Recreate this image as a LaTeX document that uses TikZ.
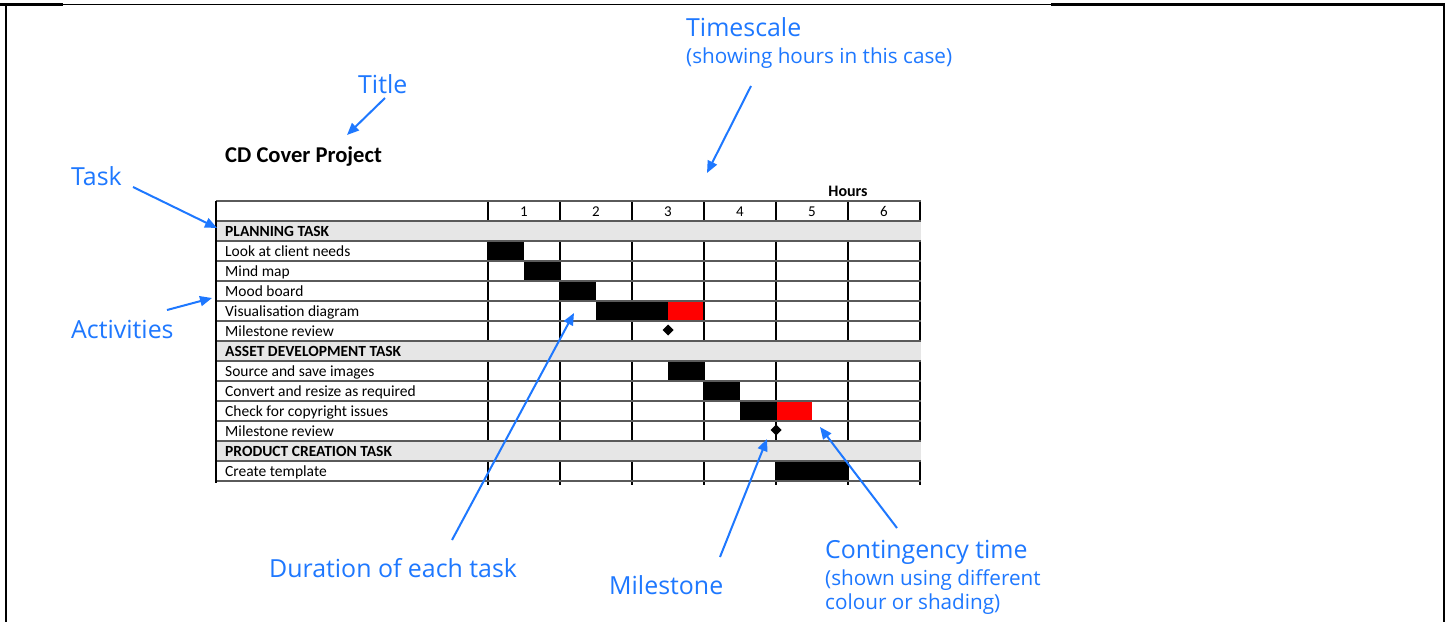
\documentclass[tikz,border=0pt]{standalone}
\usepackage{fontspec}
\setmainfont{Carlito}
\newfontfamily\annfont{Open Sans}
\usetikzlibrary{arrows.meta}
\definecolor{annblue}{RGB}{30,120,255}
\definecolor{rowgray}{RGB}{230,230,230}
\definecolor{gridgray}{RGB}{90,90,90}
\tikzset{
  ann/.style={font=\annfont\fontsize{24.9}{28}\selectfont, text=annblue, inner sep=0pt, anchor=base west},
  annsmall/.style={font=\annfont\fontsize{20.7}{23}\selectfont, text=annblue, inner sep=0pt, anchor=base west},
  arr/.style={draw=annblue, line width=2pt, -{Triangle[length=12pt,width=10pt]}},
  cell/.style={font=\fontsize{15.5}{17}\selectfont, inner sep=0pt, anchor=base west},
  grp/.style={font=\bfseries\fontsize{15.5}{17}\selectfont, inner sep=0pt, anchor=base west},
  hr/.style={font=\fontsize{15}{17}\selectfont, inner sep=0pt, anchor=base},
  bar/.style={fill=black},
  cont/.style={fill=red},
  ms/.style={fill=black, draw=none},
  vline/.style={draw=black, line width=1.1pt},
  hline/.style={draw=gridgray, line width=1.3pt},
}
\begin{document}
\begin{tikzpicture}[x=1pt,y=-1pt]
\useasboundingbox (0,0) rectangle (1450,622);
\fill[white] (0,0) rectangle (1450,622);
% frame
\draw[line width=2pt] (6,4.5) -- (6,622);
\draw[line width=2.5pt] (0,4.5) -- (63,4.5);
\draw[line width=1.3pt] (63,4.5) -- (1051,4.5);
\draw[line width=2.5pt] (1051,4.5) -- (1445,4.5);
\draw[line width=2.5pt] (1444,4.5) -- (1444,622);

% bars
\fill[bar] (488,241) rectangle (524,261);
\fill[bar] (524,261) rectangle (560,281);
\fill[bar] (560,281) rectangle (596,301);
\fill[bar] (596,301) rectangle (668,321);
\fill[cont] (668,301) rectangle (704,321);
\fill[bar] (668,361) rectangle (704,381);
\fill[bar] (704,381) rectangle (740,401);
\fill[bar] (740,401) rectangle (776,421);
\fill[cont] (776,401) rectangle (812,421);
\fill[bar] (776,461) rectangle (848,481);

% vertical grid lines
\foreach \x in {488,560,632,704,776,848,920}
  \draw[vline] (\x,201) -- (\x,485);
% group rows
\foreach \y in {221,341,441}
  \fill[rowgray] (216.6,\y) rectangle (921,\y+20);
% horizontal grid lines
\foreach \y in {201,221,241,261,281,301,321,341,361,381,401,421,441,461,481}
  \draw[hline] (216,\y) -- (920.5,\y);
\draw[vline] (216,201) -- (216,483);

% milestones
\fill[ms] (668,324.5) -- (673.5,330) -- (668,335.5) -- (662.5,330) -- cycle;
\fill[ms] (776,424.5) -- (781.5,430) -- (776,435.5) -- (770.5,430) -- cycle;

% header
\node[font=\bfseries\fontsize{22.6}{25}\selectfont, inner sep=0pt, anchor=base west] (title) at (225,162) {CD Cover Project};
\node[font=\bfseries\fontsize{16}{18}\selectfont, inner sep=0pt, anchor=base] (hours) at (848,196) {Hours};
\foreach \n [count=\i] in {1,...,6}
  \node[hr] (h\i) at (452+72*\i,216) {\n};

% task column
\node[grp] (g1) at (225,236) {PLANNING TASK};
\node[cell] (a1) at (225,256) {Look at client needs};
\node[cell] (a2) at (225,276) {Mind map};
\node[cell] (a3) at (225,296) {Mood board};
\node[cell] (a4) at (225,316) {Visualisation diagram};
\node[cell] (a5) at (225,336) {Milestone review};
\node[grp] (g2) at (225,356) {ASSET DEVELOPMENT TASK};
\node[cell] (a6) at (225,376) {Source and save images};
\node[cell] (a7) at (225,396) {Convert and resize as required};
\node[cell] (a8) at (225,416) {Check for copyright issues};
\node[cell] (a9) at (225,436) {Milestone review};
\node[grp] (g3) at (225,456) {PRODUCT CREATION TASK};
\node[cell] (a10) at (225,476) {Create template};

% annotations
\node[ann] (lTimescale) at (686,36) {Timescale};
\node[annsmall] (lTimescale2) at (686,63) {(showing hours in this case)};
\node[ann] (lTitle) at (358,93) {Title};
\node[ann] (lTask) at (71,185) {Task};
\node[ann] (lAct) at (71,338) {Activities};
\node[ann] (lDur) at (269,577) {Duration of each task};
\node[ann] (lMile) at (609,594) {Milestone};
\node[ann] (lCont) at (825,558) {Contingency time};
\node[annsmall] (lCont2) at (825,585) {(shown using different};
\node[annsmall] (lCont3) at (825,609) {colour or shading)};

% arrow end points
\coordinate (tsA) at (751,86);   \coordinate (tsB) at (707,173);
\coordinate (tiA) at (385,98);   \coordinate (tiB) at (347,135);
\coordinate (taA) at (133,187);  \coordinate (taB) at (217,228);
\coordinate (acA) at (167,310);  \coordinate (acB) at (212,298);
\coordinate (duA) at (452,540);  \coordinate (duB) at (574,313);
\coordinate (miA) at (720,557);  \coordinate (miB) at (767,439);
\coordinate (coA) at (897,528);  \coordinate (coB) at (820,427);
\draw[arr] (tsA) -- (tsB);
\draw[arr] (tiA) -- (tiB);
\draw[arr] (taA) -- (taB);
\draw[arr] (acA) -- (acB);
\draw[arr] (duA) -- (duB);
\draw[arr] (miA) -- (miB);
\draw[arr] (coA) -- (coB);
\end{tikzpicture}
\end{document}
